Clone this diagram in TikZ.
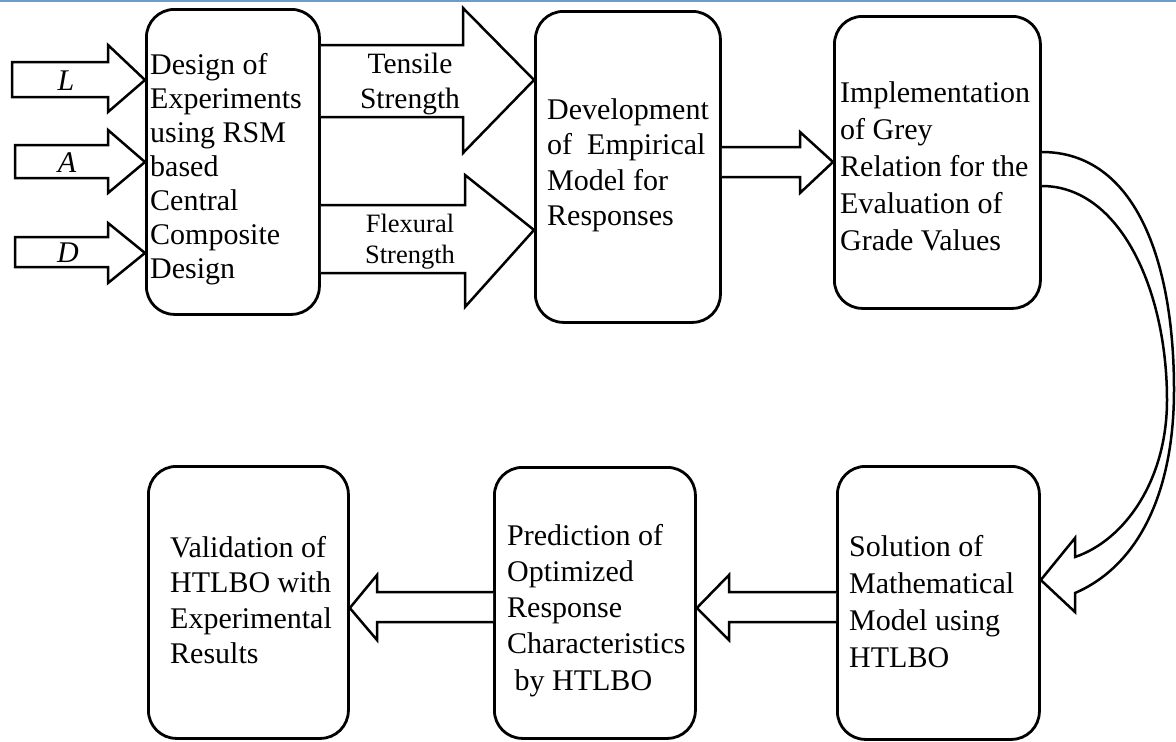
\documentclass[tikz,border=0pt]{standalone}
\usepackage{fontspec}
\setmainfont{Liberation Serif}
\newcommand\fsz[2]{\fontsize{#1}{#2}\selectfont}
\definecolor{topblue}{RGB}{110,155,200}
\tikzset{
  box/.style={draw, line width=2.8pt, rounded corners=28pt, inner sep=0pt, anchor=north west},
  txt/.style={anchor=base west, align=left, inner sep=0pt},
  lbl/.style={anchor=base, align=center, inner sep=0pt},
  barrow/.style={draw, fill=white, line width=2.5pt, line join=miter},
}
\begin{document}
\begin{tikzpicture}[x=1pt,y=-1pt]
\useasboundingbox (0,0) rectangle (1176,742);
\fill[white] (0,0) rectangle (1176,742);
\draw[topblue, line width=2.2pt] (0,1) -- (1176,1);

% boxes
\node[box, minimum width=173pt, minimum height=305pt] (doe) at (145,8) {};
\node[box, minimum width=185pt, minimum height=311pt] (dev) at (534,10) {};
\node[box, minimum width=206pt, minimum height=292pt] (impl) at (833,15) {};
\node[box, minimum width=200pt, minimum height=272pt] (val) at (147,465) {};
\node[box, minimum width=201pt, minimum height=271pt] (pred) at (493,466) {};
\node[box, minimum width=202pt, minimum height=273pt] (sol) at (836,465) {};

% box texts (anchor = baseline of the last line)
\node[txt, font=\fsz{30}{34}] (doeT) at (150,278) {Design of\\Experiments\\using RSM\\based\\Central\\Composite\\Design};
\node[txt, font=\fsz{30}{35.5}] (devT) at (547,225.5) {Development\\of~ Empirical\\Model for\\Responses};
\node[txt, font=\fsz{30}{37}] (implT) at (840,250) {Implementation\\of Grey\\Relation for the\\Evaluation of\\Grade Values};
\node[txt, font=\fsz{30}{35.5}] (valT) at (170,663.5) {Validation of\\HTLBO with\\Experimental\\Results};
\node[txt, font=\fsz{30}{36.2}] (predT) at (507,690) {Prediction of\\Optimized\\Response\\Characteristics\\\ by HTLBO};
\node[txt, font=\fsz{30}{36.7}] (solT) at (849,667) {Solution of\\Mathematical\\Model using\\HTLBO};

% input arrows
\draw[barrow] (12,62) -- (108,62) -- (108,45) -- (doe.west |- 0,80) -- (108,112) -- (108,97) -- (12,97) -- cycle;
\draw[barrow] (15,145) -- (108,145) -- (108,130) -- (doe.west |- 0,162) -- (108,193) -- (108,178) -- (15,178) -- cycle;
\draw[barrow] (15,237) -- (108,237) -- (108,223) -- (doe.west |- 0,253) -- (108,283) -- (108,267) -- (15,267) -- cycle;
\node[lbl, font=\fsz{30}{34}] (inL) at (66,90) {\textit{L}};
\node[lbl, font=\fsz{30}{34}] (inA) at (67,172) {\textit{A}};
\node[lbl, font=\fsz{30}{34}] (inD) at (68,262) {\textit{D}};

% response arrows
\draw[barrow] (doe.east |- 0,45) -- (463,45) -- (463,8) -- (dev.west |- 0,80) -- (463,153) -- (463,117) -- (doe.east |- 0,117);
\draw[barrow] (doe.east |- 0,205) -- (465,205) -- (465,175) -- (dev.west |- 0,230) -- (465,307) -- (465,273) -- (doe.east |- 0,273);
\node[lbl, font=\fsz{29.5}{35}] (tens) at (410,108) {Tensile\\Strength};
\node[lbl, font=\fsz{26.5}{31}] (flex) at (410,263) {Flexural\\Strength};

% dev -> impl
\draw[barrow] (dev.east |- 0,147) -- (800,147) -- (800,132) -- (impl.west |- 0,162) -- (800,193) -- (800,177) -- (dev.east |- 0,177);

% curved arrow impl -> sol
\draw[barrow] (impl.east |- 0,152) .. controls (1135,152) and (1174,260) .. (1174,390)
  .. controls (1174,490) and (1140,565) .. (1075,593) -- (1075,612) -- (sol.east |- 0,580)
  -- (1075,538) -- (1075,557) .. controls (1125,540) and (1167,480) .. (1167,400)
  .. controls (1167,290) and (1120,186) .. (impl.east |- 0,186);

% bottom arrows
\draw[barrow] (sol.west |- 0,592) -- (729,592) -- (729,575) -- (pred.east |- 0,608) -- (729,640) -- (729,622) -- (sol.west |- 0,622);
\draw[barrow] (pred.west |- 0,592) -- (377,592) -- (377,575) -- (val.east |- 0,608) -- (377,640) -- (377,622) -- (pred.west |- 0,622);
\end{tikzpicture}
\end{document}
